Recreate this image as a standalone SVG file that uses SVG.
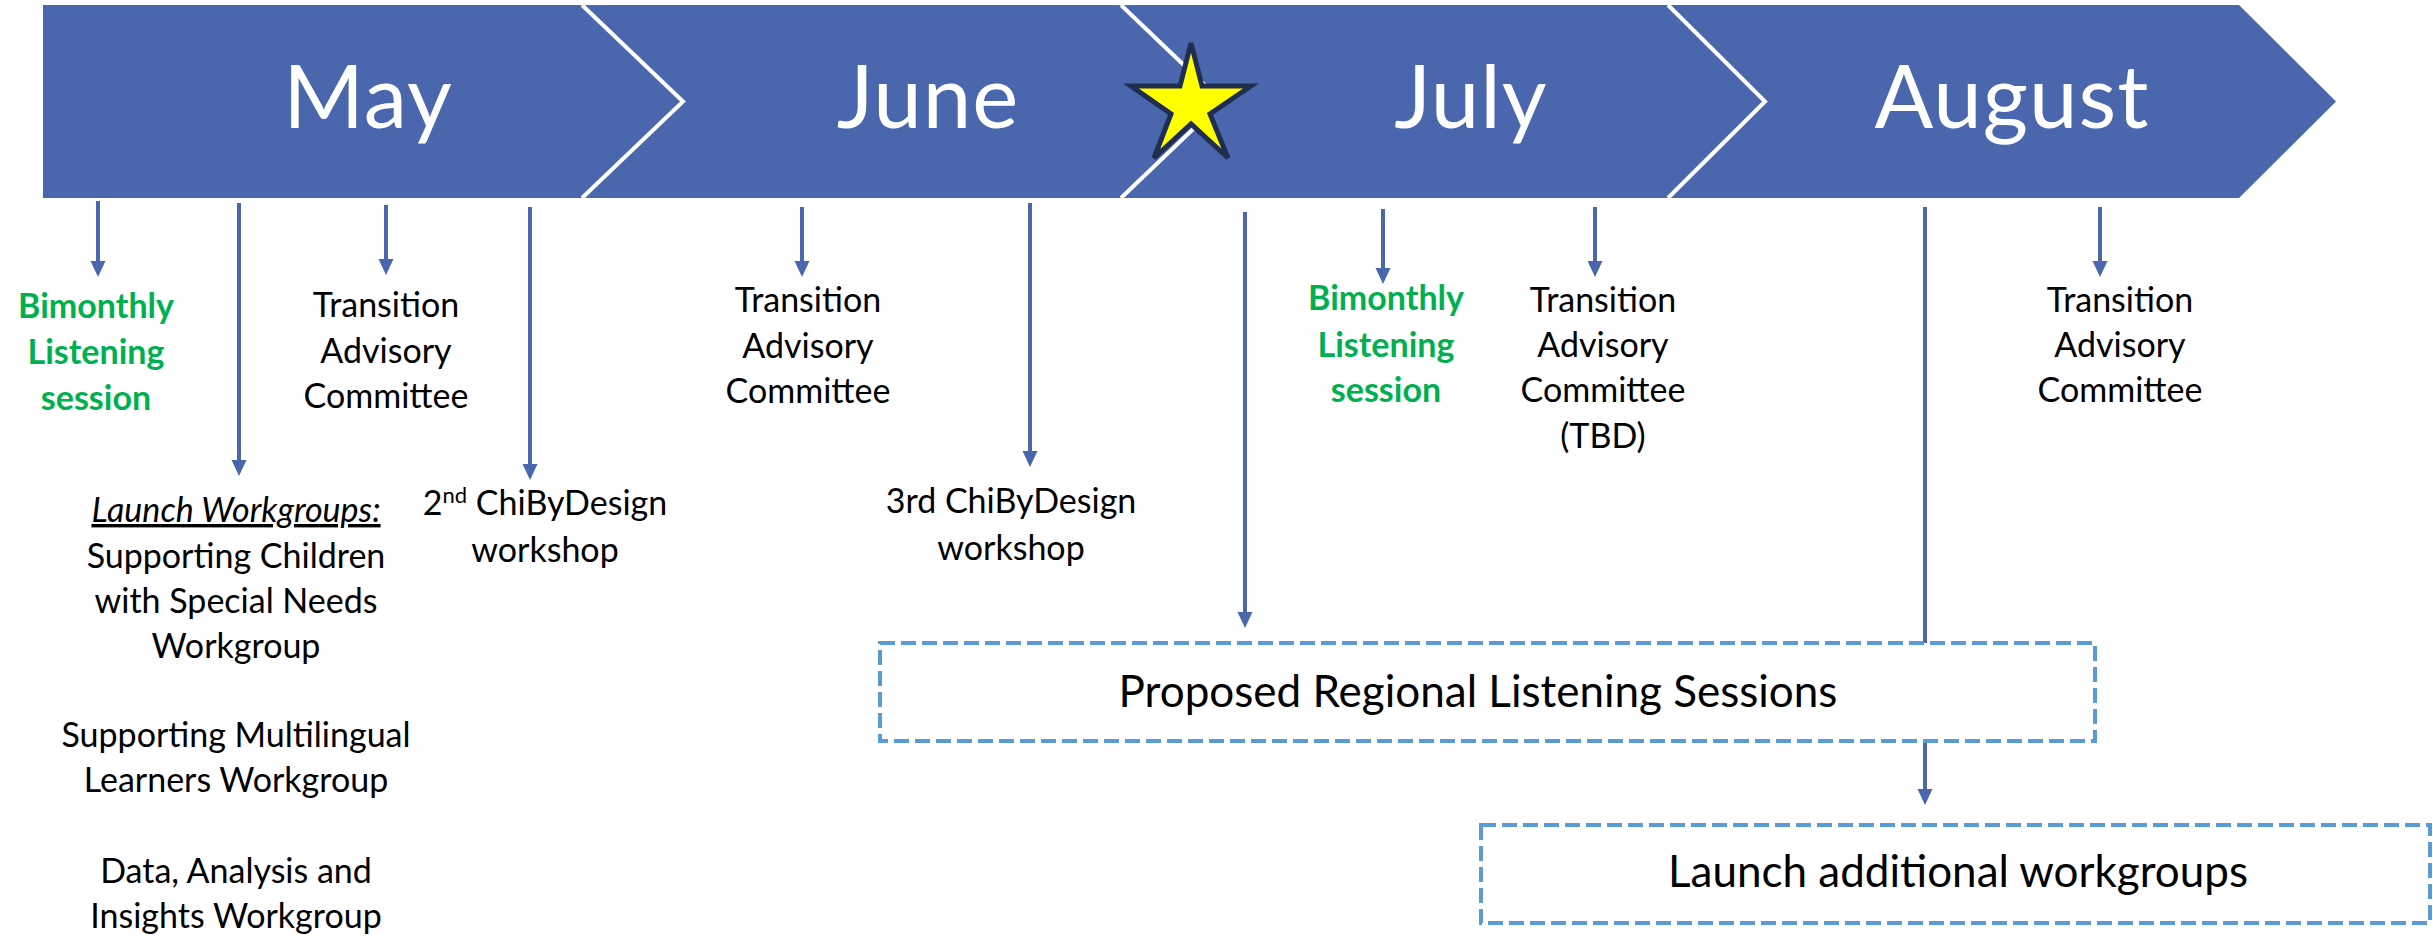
<svg xmlns="http://www.w3.org/2000/svg" width="2433" height="936" viewBox="0 0 2433 936">
<style>
.seg{fill:#4A67AD}
.sep{fill:none;stroke:#fff;stroke-width:4;stroke-linejoin:miter}
.m{font-family:Lato,'Liberation Sans',sans-serif;font-weight:400;font-size:87px;letter-spacing:1px;fill:#fff;text-anchor:middle}
.t{font-family:Lato,'Liberation Sans',sans-serif;font-size:34px;fill:#000;text-anchor:middle}
.g{fill:#00B050;font-weight:bold}
.b{font-size:44px}
.ar{stroke:#4A66AC;stroke-width:4;fill:none;marker-end:url(#ah)}
.ln{stroke:#4A66AC;stroke-width:4;fill:none}
.box{fill:#fff;stroke:#5B9BD5;stroke-width:4;stroke-dasharray:15 6}
</style>
<defs>
<marker id="ah" markerUnits="userSpaceOnUse" markerWidth="16" markerHeight="16" viewBox="0 0 16 16" refX="8" refY="8" orient="auto">
<path d="M0,0.5 L16,8 L0,15.5 Z" fill="#4A66AC"/>
</marker>
</defs>
<rect width="2433" height="936" fill="#fff"/>
<g id="timeline">
<g id="may">
<path class="seg" d="M43,5 H582 L683,101.5 L582,198 H43 Z"/>
<text class="m" x="368" y="128">May</text>
</g>
<g id="june">
<path class="seg" d="M582,5 H1121 L1222,101.5 L1121,198 H582 L683,101.5 Z"/>
<text class="m" x="928" y="128">June</text>
</g>
<g id="july">
<path class="seg" d="M1121,5 H1668 L1765,101.5 L1668,198 H1121 L1222,101.5 Z"/>
<text class="m" x="1471" y="128">July</text>
</g>
<g id="august">
<path class="seg" d="M1668,5 H2239 L2336,101.5 L2239,198 H1668 L1765,101.5 Z"/>
<text class="m" x="2012" y="128">August</text>
</g>
<polyline class="sep" points="582,5 683,101.5 582,198"/>
<polyline class="sep" points="1121,5 1222,101.5 1121,198"/>
<polyline class="sep" points="1668,5 1765,101.5 1668,198"/>
</g>
<g id="star">
<path d="M1191,43 L1202,86 L1251,86 L1210,114 L1228,158 L1191,124 L1154,158 L1171,114 L1131,86 L1180,86 Z" fill="#FFFF00" stroke="#1F2D50" stroke-width="5" stroke-linejoin="miter"/>
</g>
<g id="connectors">
<line class="ar" x1="98" y1="201" x2="98" y2="269"/>
<line class="ar" x1="239" y1="203" x2="239" y2="468"/>
<line class="ar" x1="386" y1="205" x2="386" y2="267"/>
<line class="ar" x1="530" y1="207" x2="530" y2="472"/>
<line class="ar" x1="802" y1="207" x2="802" y2="269"/>
<line class="ar" x1="1030" y1="203" x2="1030" y2="459"/>
<line class="ar" x1="1245" y1="212" x2="1245" y2="620"/>
<line class="ar" x1="1383" y1="209" x2="1383" y2="276"/>
<line class="ar" x1="1595" y1="207" x2="1595" y2="269"/>
<line class="ar" x1="2100" y1="207" x2="2100" y2="269"/>
<line class="ln" x1="1925" y1="207" x2="1925" y2="643"/>
<line class="ar" x1="1925" y1="741" x2="1925" y2="797"/>
</g>
<g id="may-bimonthly">
<text class="t g" x="96" y="318">Bimonthly</text>
<text class="t g" x="96" y="364">Listening</text>
<text class="t g" x="96" y="410">session</text>
</g>
<g id="may-workgroups">
<text class="t" x="236" y="522" font-style="italic" text-decoration="underline">Launch Workgroups:</text>
<text class="t" x="236" y="568">Supporting Children</text>
<text class="t" x="236" y="613">with Special Needs</text>
<text class="t" x="236" y="658">Workgroup</text>
<text class="t" x="236" y="747">Supporting Multilingual</text>
<text class="t" x="236" y="792">Learners Workgroup</text>
<text class="t" x="236" y="883">Data, Analysis and</text>
<text class="t" x="236" y="928">Insights Workgroup</text>
</g>
<g id="may-tac">
<text class="t" x="386" y="317">Transition</text>
<text class="t" x="386" y="363">Advisory</text>
<text class="t" x="386" y="408">Committee</text>
</g>
<g id="may-chibydesign">
<text class="t" x="545" y="515">2<tspan font-size="22" dy="-12">nd</tspan><tspan dy="12"> ChiByDesign</tspan></text>
<text class="t" x="545" y="562">workshop</text>
</g>
<g id="june-tac">
<text class="t" x="808" y="312">Transition</text>
<text class="t" x="808" y="358">Advisory</text>
<text class="t" x="808" y="403">Committee</text>
</g>
<g id="june-chibydesign">
<text class="t" x="1011" y="513">3rd ChiByDesign</text>
<text class="t" x="1011" y="560">workshop</text>
</g>
<g id="july-bimonthly">
<text class="t g" x="1386" y="310">Bimonthly</text>
<text class="t g" x="1386" y="357">Listening</text>
<text class="t g" x="1386" y="402">session</text>
</g>
<g id="july-tac">
<text class="t" x="1603" y="312">Transition</text>
<text class="t" x="1603" y="357">Advisory</text>
<text class="t" x="1603" y="402">Committee</text>
<text class="t" x="1603" y="448">(TBD)</text>
</g>
<g id="august-tac">
<text class="t" x="2120" y="312">Transition</text>
<text class="t" x="2120" y="357">Advisory</text>
<text class="t" x="2120" y="402">Committee</text>
</g>
<g id="regional-sessions">
<rect class="box" x="880" y="643" width="1215" height="98"/>
<text class="t b" x="1478" y="707">Proposed Regional Listening Sessions</text>
</g>
<g id="additional-workgroups">
<rect class="box" x="1481" y="825" width="949" height="98"/>
<text class="t b" x="1958" y="887">Launch additional workgroups</text>
</g>
</svg>
